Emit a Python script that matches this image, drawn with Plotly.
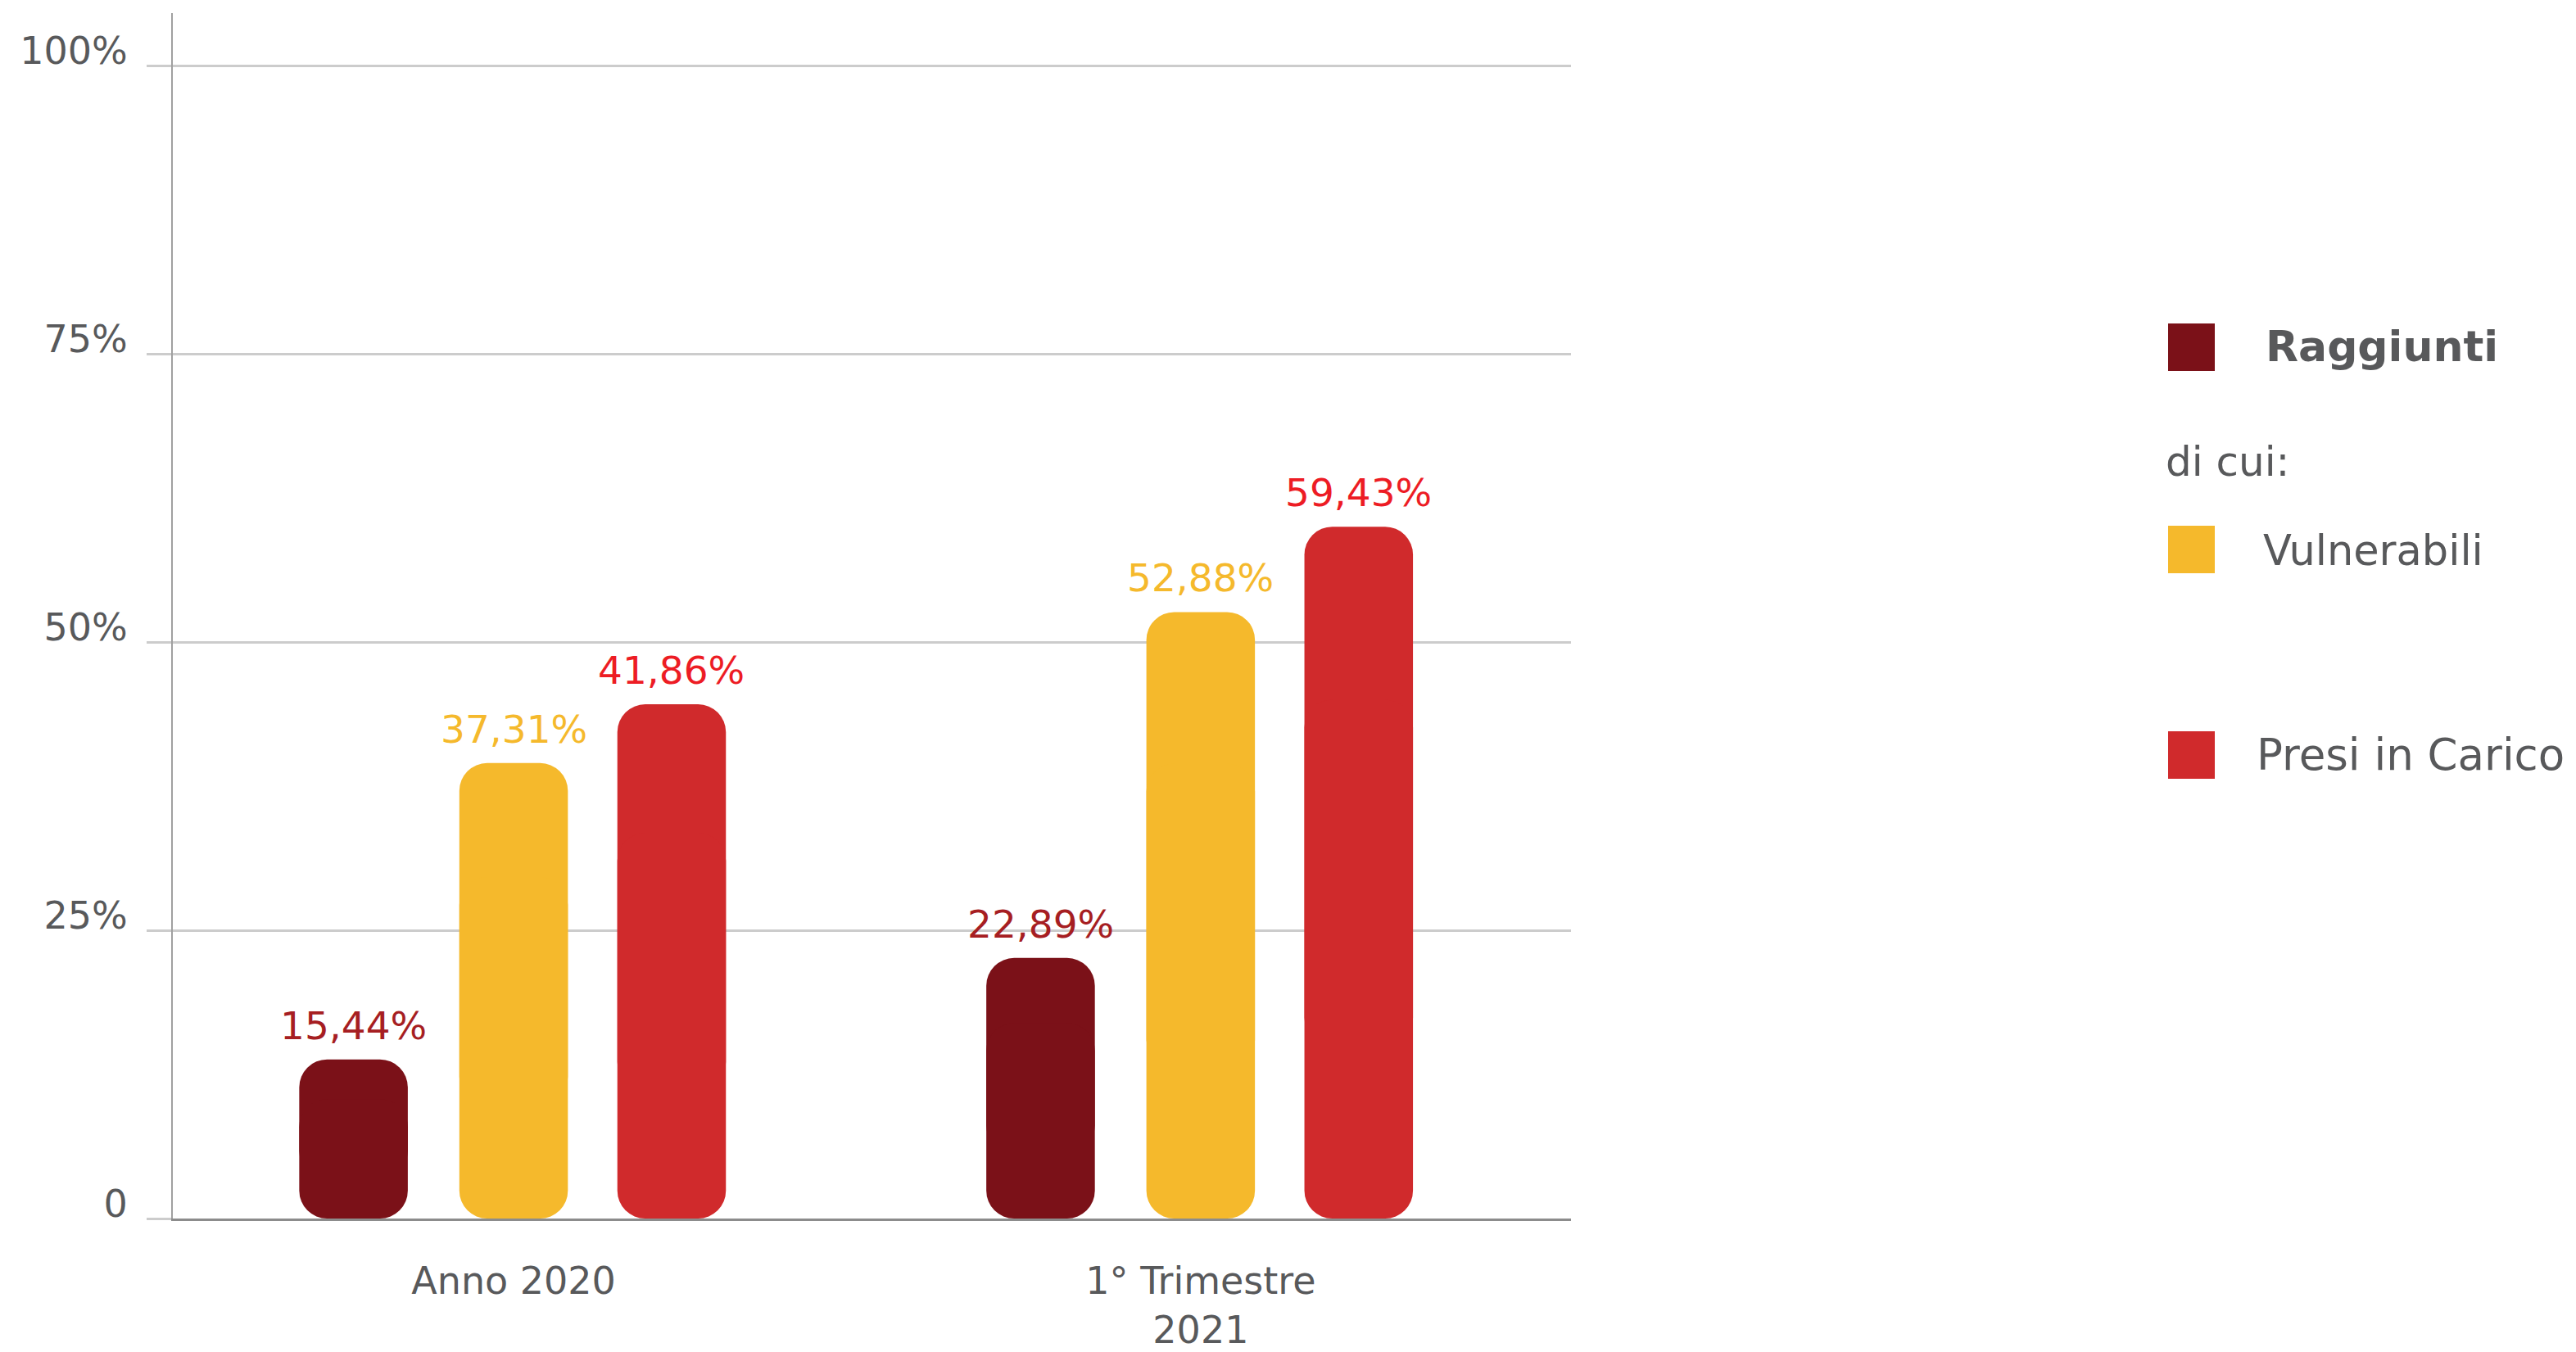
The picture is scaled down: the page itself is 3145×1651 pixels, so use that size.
import plotly.graph_objects as go

# ---- data ----
categories = ["Anno 2020", "1° Trimestre<br>2021"]
series_names = ["Raggiunti", "Vulnerabili", "Presi in Carico"]
raggiunti = [13.8, 22.6]          # bar heights as drawn (%)
vulnerabili = [39.5, 52.6]
presi = [44.6, 60.0]
raggiunti_labels = ["15,44%", "22,89%"]
vulnerabili_labels = ["37,31%", "52,88%"]
presi_labels = ["41,86%", "59,43%"]
y_tickvals = [0, 25, 50, 75, 100]
y_ticktext = ["0", "25%", "50%", "75%", "100%"]

# ---- style ----
bar_colors = ["#7b1118", "#f5b92c", "#d02a2c"]
label_colors = ["#a61e22", "#f5b92c", "#ed1c24"]
text_gray = "#58595b"
FONT = "DejaVu Sans"
W, H = 3145, 1651
L, R, T, B = 211, 1918, 16, 1488  # plot area in page pixels

series_vals = [raggiunti, vulnerabili, presi]
series_labels = [raggiunti_labels, vulnerabili_labels, presi_labels]
offsets = [-0.233, 0.0, 0.230]
bw = 0.158

fig = go.Figure()
annotations = []
for s in range(3):
    vals = series_vals[s]
    # upper part (rounded top end)
    fig.add_trace(go.Bar(
        x=categories, y=[v * 0.75 for v in vals], base=[v * 0.25 for v in vals],
        width=bw, offset=offsets[s] - bw / 2, marker=dict(color=bar_colors[s], line=dict(width=0)),
        name=series_names[s], showlegend=False, hoverinfo="skip"))
    # lower part (rounded bottom end)
    fig.add_trace(go.Bar(
        x=categories, y=[-v * 0.75 for v in vals], base=[v * 0.75 for v in vals],
        width=bw, offset=offsets[s] - bw / 2, marker=dict(color=bar_colors[s], line=dict(width=0)),
        name=series_names[s], showlegend=False, hoverinfo="skip"))
    for c in range(len(categories)):
        annotations.append(dict(
            x=c + offsets[s], y=vals[c], xref="x", yref="y", text=series_labels[s][c],
            showarrow=False, yanchor="bottom", xanchor="center", yshift=12,
            font=dict(family=FONT, size=47, color=label_colors[s])))


def px(xp):
    return (xp - L) / (R - L)


def py(yp):
    return (B - yp) / (B - T)


# legend swatches and texts (page pixel positions)
shapes = []
sw_centers = [424, 671, 922]
for s in range(3):
    shapes.append(dict(type="rect", xref="paper", yref="paper",
                       x0=px(2647), x1=px(2704), y0=py(sw_centers[s] + 29), y1=py(sw_centers[s] - 29),
                       fillcolor=bar_colors[s], line=dict(width=0)))

legend_texts = [
    ("<b>Raggiunti</b>", 2764, 423, 52),
    ("di cui:", 2642, 564, 50),
    ("Vulnerabili", 2761, 672, 51),
    ("Presi in Carico", 2753, 921, 53),
]
for txt, xx, yy, fs in legend_texts:
    annotations.append(dict(x=px(xx), y=py(yy), xref="paper", yref="paper", text=txt,
                            showarrow=False, xanchor="left", yanchor="middle",
                            font=dict(family=FONT, size=fs, color=text_gray)))

fig.update_layout(
    width=W, height=H,
    margin=dict(l=L, r=W - R, t=T, b=H - B, pad=0, autoexpand=False),
    barmode="overlay",
    barcornerradius="26%",
    plot_bgcolor="white", paper_bgcolor="white",
    showlegend=False,
    annotations=annotations,
    shapes=shapes,
    xaxis=dict(type="category", range=[-0.496, 1.539], showgrid=False, zeroline=False,
               automargin=False,
               showline=True, linecolor="#8c8c8c", linewidth=3, ticks="",
               tickfont=dict(family=FONT, size=46, color=text_gray), ticklabelstandoff=34),
    yaxis=dict(range=[0, 104.55], showgrid=True, gridcolor="#cccccc", gridwidth=3, zeroline=False,
               automargin=False,
               showline=True, linecolor="#a0a0a0", linewidth=2,
               ticks="outside", ticklen=30, tickcolor="#cccccc", tickwidth=3,
               tickvals=y_tickvals, ticktext=y_ticktext, ticklabelstandoff=14, ticklabelshift=-18,
               tickfont=dict(family=FONT, size=46, color=text_gray)),
)

fig.write_html(
    "out.html",
    config={"displayModeBar": False},
    post_script="document.body.style.margin='0';document.body.style.overflow='hidden';",
)
